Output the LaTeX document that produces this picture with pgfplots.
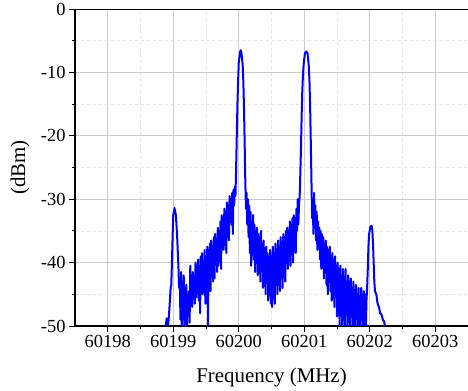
\documentclass[border=0pt]{standalone}
\usepackage{fontspec}
\setmainfont{Liberation Serif}
\usepackage{pgfplots}
\pgfplotsset{compat=1.18}
\begin{document}
\begin{tikzpicture}
\begin{axis}[name=ax, scale only axis, width=393bp, height=317bp,
 xmin=60197.5, xmax=60203.5, ymin=-50, ymax=0,
 xtick={60198,60199,60200,60201,60202,60203}, ytick={-50,-40,-30,-20,-10,0},
 xticklabels={60198,60199,60200,60201,60202,60203},
 yticklabels={-50,-40,-30,-20,-10,0},
 scaled ticks=false,
 minor x tick num=1, minor y tick num=1,
 axis x line*=bottom, axis y line*=left,
 axis line style={line width=1.2bp, black},
 tick align=outside, major tick length=6bp, minor tick length=3.5bp,
 tick style={black, line width=0.8bp},
 grid=both, major grid style={gray!40, line width=0.6bp},
 minor grid style={gray!22, dashed, line width=0.5bp},
 xticklabel style={font=\rmfamily\fontsize{18.5}{21}\selectfont},
 yticklabel style={font=\rmfamily\fontsize{18.5}{21}\selectfont},
 label style={font=\rmfamily\fontsize{21}{24}\selectfont},
 xlabel={Frequency (MHz)}, ylabel={(dBm)},
 xlabel style={at={(axis description cs:0.5,-0.161)}, anchor=center},
 ylabel style={at={(axis description cs:-0.140,0.5)}, anchor=center},
 clip=true,
 ]
\draw[line width=1.2bp, black] (rel axis cs:0,1) -- (rel axis cs:1,1);
\addplot[color={rgb,255:red,0;green,0;blue,255}, line width=2bp, line join=round] table {
x y
60198.80 -55
60198.85 -52
60198.88 -50.5
60198.90 -48.8
60198.92 -50.2
60198.94 -47.5
60198.96 -44
60198.97 -43.5
60198.98 -40
60198.99 -36
60199.00 -32.5
60199.02 -31.4
60199.04 -32.5
60199.06 -36
60199.08 -41
60199.09 -44
60199.10 -42.5
60199.11 -49
60199.12 -41.5
60199.13 -50.5
60199.14 -43
60199.15 -46
60199.16 -42
60199.17 -51
60199.18 -44
60199.19 -47.5
60199.20 -43.5
60199.21 -50.5
60199.22 -45
60199.23 -46.5
60199.24 -44.5
60199.25 -49.5
60199.26 -40.5
60199.27 -45.5
60199.28 -42
60199.29 -47
60199.30 -41.5
60199.31 -44
60199.32 -42.5
60199.33 -46.5
60199.34 -40
60199.35 -45.5
60199.36 -41
60199.37 -43.5
60199.38 -39.5
60199.39 -46
60199.40 -40.5
60199.41 -48
60199.42 -39
60199.43 -43
60199.44 -38.5
60199.45 -45
60199.46 -41
60199.47 -43.5
60199.48 -38
60199.49 -46.5
60199.50 -39.5
60199.51 -42
60199.52 -37.5
60199.53 -51
60199.54 -38
60199.55 -43.5
60199.56 -37
60199.57 -44.5
60199.58 -36.5
60199.59 -41
60199.60 -37.5
60199.61 -43
60199.62 -36
60199.63 -42.5
60199.64 -35.5
60199.65 -40
60199.66 -36.5
60199.67 -41.5
60199.68 -34.5
60199.69 -40.5
60199.70 -35
60199.71 -39.5
60199.72 -33.5
60199.73 -41
60199.74 -32.5
60199.75 -37
60199.76 -33.5
60199.77 -38
60199.78 -31.5
60199.79 -36
60199.80 -32
60199.81 -38.5
60199.82 -30.5
60199.83 -34.5
60199.84 -31
60199.85 -36.5
60199.86 -29.5
60199.87 -33.5
60199.88 -30
60199.89 -34
60199.90 -29
60199.91 -35.5
60199.92 -28.5
60199.93 -31
60199.94 -28
60199.95 -29.5
60199.96 -25
60199.97 -20
60199.98 -15
60199.99 -11.5
60200.00 -8.5
60200.02 -6.8
60200.03 -6.5
60200.04 -6.8
60200.06 -8.8
60200.07 -11.5
60200.08 -15.5
60200.09 -21
60200.10 -27
60200.11 -31.5
60200.12 -29
60200.13 -34
60200.14 -30
60200.15 -36
60200.16 -31
60200.17 -38.5
60200.18 -32
60200.19 -40.5
60200.20 -33.5
60200.21 -37
60200.22 -32.5
60200.23 -39.5
60200.24 -34
60200.25 -41.5
60200.26 -35
60200.27 -38.5
60200.28 -34.5
60200.29 -42
60200.30 -35.5
60200.31 -40
60200.32 -36
60200.33 -43
60200.34 -35
60200.35 -41
60200.36 -37
60200.37 -44
60200.38 -36.5
60200.39 -42.5
60200.40 -38
60200.41 -45
60200.42 -37.5
60200.43 -43
60200.44 -38.5
60200.45 -46
60200.46 -39
60200.47 -44
60200.48 -38
60200.49 -46.5
60200.50 -40
60200.51 -47
60200.52 -37.5
60200.53 -45.5
60200.54 -38.5
60200.55 -46.5
60200.56 -37
60200.57 -43.5
60200.58 -38
60200.59 -45
60200.60 -36.5
60200.61 -42
60200.62 -37.5
60200.63 -44.5
60200.64 -36
60200.65 -41
60200.66 -37
60200.67 -44
60200.68 -35.5
60200.69 -41.5
60200.70 -36
60200.71 -43
60200.72 -35
60200.73 -40
60200.74 -34.5
60200.75 -41
60200.76 -35
60200.77 -39
60200.78 -33.5
60200.79 -40.5
60200.80 -34
60200.81 -38
60200.82 -33
60200.83 -40
60200.84 -32.5
60200.85 -37
60200.86 -33
60200.87 -38.5
60200.88 -31.5
60200.89 -35
60200.90 -30
60200.91 -34
60200.92 -31
60200.93 -29.5
60200.94 -26
60200.95 -22
60200.96 -17
60200.97 -13
60200.98 -10.5
60200.99 -8.8
60201.01 -7
60201.03 -6.7
60201.05 -7
60201.07 -9
60201.08 -11.5
60201.09 -15.5
60201.10 -21
60201.11 -27
60201.12 -33
60201.13 -30
60201.14 -35.5
60201.15 -29
60201.16 -34
60201.17 -31
60201.18 -36.5
60201.19 -32
60201.20 -38
60201.21 -33.5
60201.22 -37
60201.23 -34.5
60201.24 -39.5
60201.25 -35
60201.26 -41
60201.27 -35.5
60201.28 -38.5
60201.29 -36
60201.30 -42.5
60201.31 -37
60201.32 -40
60201.33 -36.5
60201.34 -43.5
60201.35 -37.5
60201.36 -45
60201.37 -38
60201.38 -42
60201.39 -37.5
60201.40 -44.5
60201.41 -39
60201.42 -46
60201.43 -38.5
60201.44 -43
60201.45 -40
60201.46 -47
60201.47 -39
60201.48 -44.5
60201.49 -40.5
60201.50 -48.5
60201.51 -40
60201.52 -45
60201.53 -41.5
60201.54 -50.5
60201.55 -40.5
60201.56 -46
60201.57 -42
60201.58 -51
60201.59 -41
60201.60 -47.5
60201.61 -42.5
60201.62 -50.5
60201.63 -41
60201.64 -48
60201.65 -43
60201.66 -51
60201.67 -42
60201.68 -47
60201.69 -43.5
60201.70 -50.5
60201.71 -42.5
60201.72 -48.5
60201.73 -44
60201.74 -51
60201.75 -43
60201.76 -49
60201.77 -44.5
60201.78 -50.5
60201.79 -43.5
60201.80 -48
60201.81 -45
60201.82 -51
60201.83 -44
60201.84 -49.5
60201.85 -45.5
60201.86 -51
60201.87 -44
60201.88 -48
60201.89 -45
60201.90 -50.5
60201.91 -44.5
60201.92 -47.5
60201.93 -45
60201.94 -50.5
60201.95 -46
60201.96 -44
60201.97 -41
60201.98 -37.5
60201.99 -35.5
60202.01 -34.3
60202.03 -34.2
60202.04 -35
60202.05 -37
60202.06 -40
60202.07 -43
60202.08 -44.5
60202.10 -45
60202.12 -46.5
60202.14 -47
60202.16 -48
60202.18 -48.2
60202.20 -49
60202.22 -49.3
60202.24 -50.5
60202.28 -53
};
\end{axis}
\pgfresetboundingbox
\path (ax.south west) ++(-75bp,-65bp) rectangle ([yshift=9bp]ax.north east);
\end{tikzpicture}
\end{document}
